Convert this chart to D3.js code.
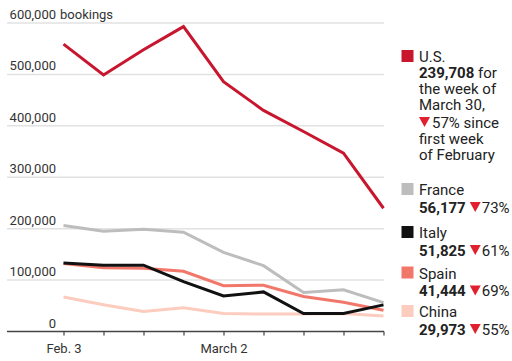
<!DOCTYPE html>
<html><head><meta charset="utf-8">
<script src="https://cdn.jsdelivr.net/npm/d3@7"></script>
<style>
body{margin:0;background:#fff;}
svg{display:block;font-family:Roboto,"Noto Sans",sans-serif;}
</style></head>
<body><svg id="c" width="512" height="361"></svg>
<script>
const weeks = ["Feb. 3","Feb. 10","Feb. 17","Feb. 24","March 2","March 9","March 16","March 23","March 30"];
const tickLabels = {"Feb. 3":"Feb. 3","March 2":"March 2"};
const yTicks = [0,100000,200000,300000,400000,500000,600000];
const us     = [559000,499000,548000,593000,486000,430000,389000,347000,239708];
const france = [206000,195000,199000,193000,154000,128000,76000,81000,56177];
const italy  = [133000,129000,129000,97000,69000,77000,35000,35000,51825];
const spain  = [132000,124000,123000,117000,89000,90000,68000,57000,41444];
const china  = [67000,52000,39000,46000,35000,34000,34000,35000,29973];
const seriesNames = ["China","France","Spain","Italy","U.S."];
const seriesData = [china,france,spain,italy,us];
const colors = {"U.S.":"#c8162f","France":"#bdbdbd","Italy":"#111111","Spain":"#f2776b","China":"#fcccbf"};

const svg = d3.select("#c");
const x = d3.scalePoint().domain(weeks).range([63.5,383.5]);
const y = d3.scaleLinear().domain([0,600000]).range([331.5,23]);
const fmt = d3.format(",");
const FONT = "Roboto,'Noto Sans',sans-serif";

// gridlines
const g = svg.append("g");
yTicks.filter(d=>d>0).forEach(t=>{
  g.append("line").attr("x1",7).attr("x2",384).attr("y1",y(t)).attr("y2",y(t))
   .attr("stroke","#e2e2e2").attr("stroke-width",1.5);
});
// y labels
yTicks.forEach(t=>{
  g.append("text").attr("x",56).attr("y",y(t)-4).attr("text-anchor","end")
   .attr("font-size",13).attr("fill","#333").text(fmt(t));
});
g.append("text").attr("x",60).attr("y",y(600000)-4).attr("font-size",13).attr("fill","#333").text("bookings");

// x axis
const xAxis = d3.axisBottom(x).tickSize(4).tickFormat(d=>tickLabels[d]||"");
const ax = svg.append("g").attr("transform",`translate(0,${y(0)})`).call(xAxis);
ax.select(".domain").remove();
ax.selectAll(".tick line").attr("stroke","#444").attr("stroke-width",1.2);
ax.selectAll(".tick text").attr("font-size",13).attr("fill","#333").attr("font-family",FONT).attr("dy","1.1em");
svg.append("line").attr("x1",7).attr("x2",384).attr("y1",y(0)).attr("y2",y(0)).attr("stroke","#444").attr("stroke-width",1.5);

// lines
const line = d3.line().x((d,i)=>x(weeks[i])).y(d=>y(d));
seriesNames.forEach((n,k)=>{
  svg.append("path").datum(seriesData[k]).attr("d",line).attr("fill","none")
   .attr("stroke",colors[n]).attr("stroke-width",3).attr("stroke-linejoin","miter");
});

// legend
const lg = svg.append("g");
const tx = 419, fs = 15;
function sq(n,yTop){ lg.append("rect").attr("x",401.5).attr("y",yTop).attr("width",12).attr("height",12).attr("fill",colors[n]); }
function tri(xp,base){ lg.append("path").attr("d",`M${xp},${base-10}L${xp+11},${base-10}L${xp+5.5},${base}Z`).attr("fill","#e0202f"); }
function txt(xp,base,parts){
  const t = lg.append("text").attr("x",xp).attr("y",base).attr("font-size",fs).attr("fill","#222");
  parts.forEach(p=>t.append("tspan").attr("font-weight",p[1]?"bold":"normal").text(p[0]));
  return t;
}
// U.S.
sq("U.S.",50);
txt(tx,62,[["U.S.",0]]);
txt(tx,78,[[fmt(us[8]),1],[" for",0]]);
txt(tx,94,[["the week of",0]]);
txt(tx,110,[["March 30,",0]]);
tri(tx,127); txt(tx+13,128,[["57% since",0]]);
txt(tx,144,[["first week",0]]);
txt(tx,160,[["of February",0]]);

const others = [["France",france,"73%",183],["Italy",italy,"61%",226],["Spain",spain,"69%",266.5],["China",china,"55%",305]];
others.forEach(o=>{
  sq(o[0],o[3]);
  txt(tx,o[3]+12,[[o[0],0]]);
  const t = txt(tx,o[3]+29.5,[[fmt(o[1][8]),1]]);
  const w = t.node().getComputedTextLength();
  tri(tx+w+4,o[3]+29);
  txt(tx+w+16,o[3]+29.5,[[o[2],0]]);
});
</script></body></html>
